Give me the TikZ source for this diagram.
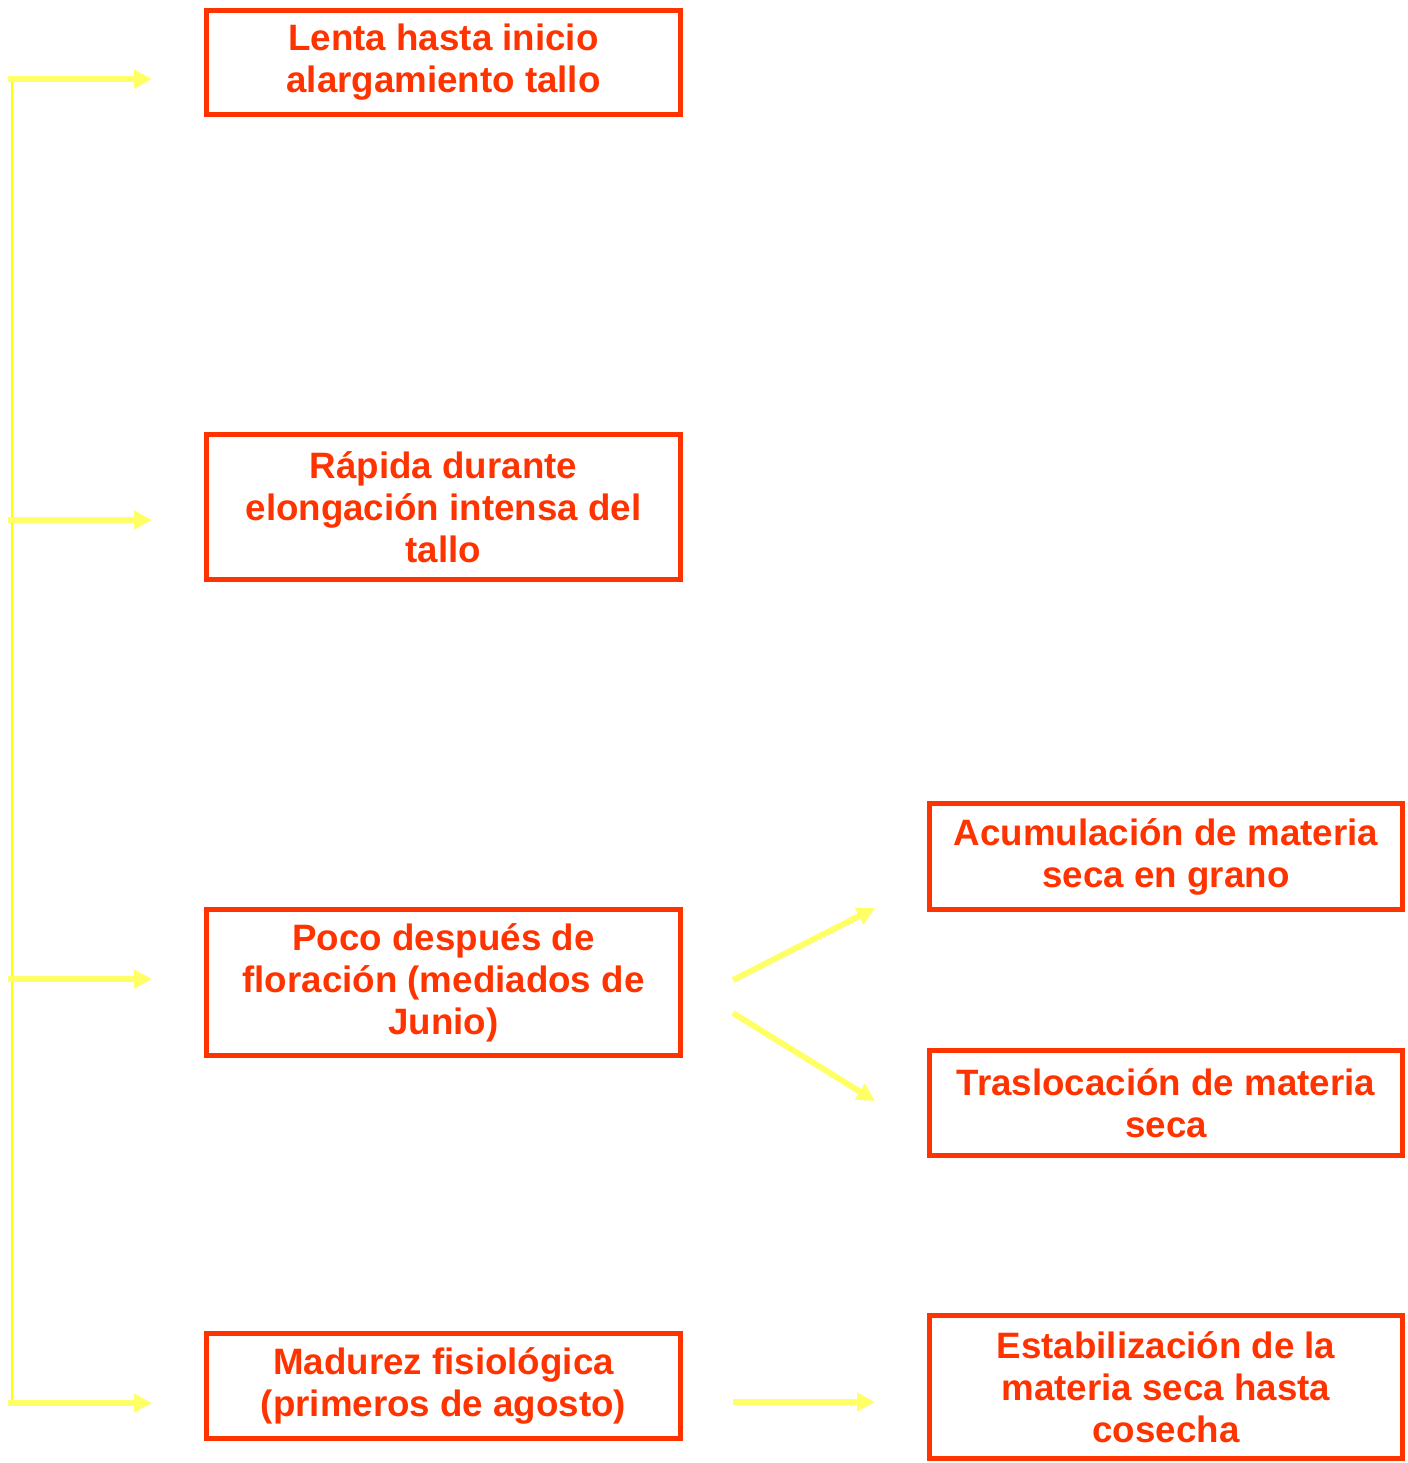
\documentclass[tikz,border=0pt]{standalone}
\usepackage{fontspec}
\setmainfont{Liberation Sans}
\usetikzlibrary{arrows.meta}
\definecolor{boxred}{HTML}{FF3300}
\definecolor{arrowyellow}{HTML}{FFFF66}
\definecolor{lineyellow}{HTML}{FFFF00}
\begin{document}
\begin{tikzpicture}[x=0.02cm,y=-0.02cm,
  box/.style={draw=boxred, line width=2.85pt, rectangle, inner sep=0pt,
    minimum width=9.48cm, text=boxred, align=center,
    font=\fontsize{20.9pt}{23.9pt}\selectfont\bfseries},
  arr/.style={draw=arrowyellow, line width=3.4pt,
    -{Triangle[length=10.2pt,width=10.2pt]}},
  vline/.style={draw=lineyellow, line width=1.2pt}]
\useasboundingbox (0,0) rectangle (1407,1463);
% left column
\node[box, minimum height=2.08cm] (b1) at (443.5,62.5) {Lenta hasta inicio\\alargamiento tallo};
\node[box, minimum height=2.9cm] (b2) at (443.5,507) {Rápida durante\\elongación intensa del\\tallo};
\node[box, minimum height=2.92cm] (b3) at (443.5,982.5) {Poco después de\\floración (mediados de\\Junio)};
\node[box, minimum height=2.1cm] (b4) at (443.5,1386) {Madurez fisiológica\\(primeros de agosto)};
% right column
\node[box, minimum height=2.12cm, minimum width=9.46cm] (ra) at (1166,856.5) {Acumulación de materia\\seca en grano};
\node[box, minimum height=2.1cm, minimum width=9.46cm] (rt) at (1166,1103) {Traslocación de materia\\seca};
\node[box, minimum height=2.86cm, minimum width=9.46cm] (re) at (1166,1387) {Estabilización de la\\materia seca hasta\\cosecha};
% trunk
\coordinate (top) at (12,78);
\coordinate (bot) at (12,1404);
\draw[vline] (top) -- (bot);
\coordinate (s1) at (8,79);
\coordinate (s2) at (8,520);
\coordinate (s3) at (8,979);
\coordinate (s4) at (8,1403);
\coordinate (e1) at (152,79);
\coordinate (e2) at (152,520);
\coordinate (e3) at (152,979);
\coordinate (e4) at (152,1403);
\draw[arr] (s1) -- (e1);
\draw[arr] (s2) -- (e2);
\draw[arr] (s3) -- (e3);
\draw[arr] (s4) -- (e4);
% right arrows
\coordinate (d1s) at (733,980);
\coordinate (d1e) at (875,908);
\coordinate (d2s) at (733,1013);
\coordinate (d2e) at (875,1101);
\coordinate (d3s) at (733,1402);
\coordinate (d3e) at (875,1402);
\draw[arr] (d1s) -- (d1e);
\draw[arr] (d2s) -- (d2e);
\draw[arr] (d3s) -- (d3e);
\end{tikzpicture}
\end{document}
